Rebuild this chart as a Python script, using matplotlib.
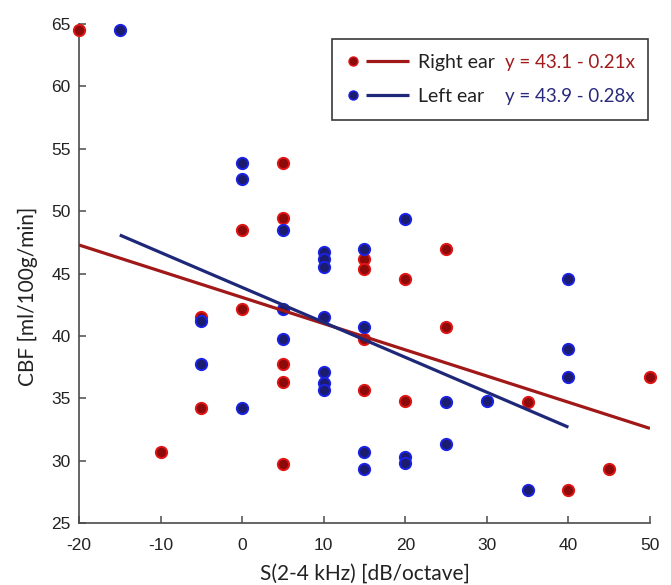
import matplotlib
matplotlib.use("Agg")
import matplotlib.pyplot as plt
import numpy as np
from matplotlib.lines import Line2D
from matplotlib.legend_handler import HandlerBase

plt.rcParams["axes.unicode_minus"] = False
plt.rcParams["font.family"] = ["Liberation Sans", "DejaVu Sans"]

# ---------------- data ----------------
right_x = [-20, -10, -5, -5, 0, 0, 5, 5, 5, 5, 5, 15, 15, 15, 15,
           20, 20, 25, 25, 35, 40, 45, 50]
right_y = [64.5, 30.75, 41.55, 34.25, 48.5, 42.2, 53.85, 49.5, 37.75, 36.3, 29.75,
           46.2, 45.4, 39.8, 35.7, 44.55, 34.8, 47.0, 40.7, 34.7, 27.7, 29.35, 36.75]

left_x = [-15, -5, -5, 0, 0, 0, 5, 5, 5, 10, 10, 10, 10, 10, 10, 10,
          15, 15, 15, 15, 20, 20, 20, 25, 25, 30, 35, 40, 40, 40]
left_y = [64.5, 41.2, 37.75, 53.85, 52.6, 34.25, 48.5, 42.2, 39.8,
          46.75, 46.2, 45.5, 41.5, 37.15, 36.25, 35.7,
          47.0, 40.75, 30.7, 29.35, 49.4, 30.3, 29.8, 34.7, 31.35, 34.8, 27.7,
          44.55, 39.0, 36.75]

right_fit = (43.1, -0.21)   # intercept, slope
left_fit = (43.9, -0.28)

series_labels = ["Right ear", "Left ear"]
x_ticks = [-20, -10, 0, 10, 20, 30, 40, 50]
y_ticks = [25, 30, 35, 40, 45, 50, 55, 60, 65]

# ---------------- style ----------------
red_face, red_edge, red_line, red_text = "#8c0a0a", "#e01515", "#a01818", "#a01c1c"
blue_face, blue_edge, blue_line, blue_text = "#1c1c6e", "#1a22e6", "#1f2878", "#2a2a7c"

fig = plt.figure(figsize=(6.71, 5.85), dpi=100)
ax = fig.add_axes([0.1177, 0.1055, 0.851, 0.8533])

ax.scatter(right_x, right_y, s=66, facecolor=red_face, edgecolor=red_edge,
           linewidth=1.4, zorder=3, clip_on=False)
ax.scatter(left_x, left_y, s=66, facecolor=blue_face, edgecolor=blue_edge,
           linewidth=1.4, zorder=4, clip_on=False)

rx = np.array([min(right_x), max(right_x)])
lx = np.array([min(left_x), max(left_x)])
ax.plot(rx, right_fit[0] + right_fit[1] * rx, color=red_line, lw=2.3, zorder=5,
        solid_capstyle="butt")
ax.plot(lx, left_fit[0] + left_fit[1] * lx, color=blue_line, lw=2.3, zorder=5,
        solid_capstyle="butt")

ax.set_xlim(-20, 50)
ax.set_ylim(25, 65)
ax.set_xticks(x_ticks)
ax.set_yticks(y_ticks)
for s in ["top", "right"]:
    ax.spines[s].set_visible(False)
for s in ["left", "bottom"]:
    ax.spines[s].set_color("#4a4a4a")
    ax.spines[s].set_linewidth(1.2)
ax.tick_params(direction="in", length=5, width=1.1, color="#4a4a4a",
               labelsize=12.5, labelcolor="#222222")
ax.tick_params(axis="x", pad=10.5)
ax.tick_params(axis="y", pad=6)

ax.set_xlabel("S(2-4 kHz) [dB/octave]", fontfamily="Lato", fontsize=15, color="#222222")
ax.set_ylabel("CBF [ml/100g/min]", fontfamily="Lato", fontsize=15, color="#222222")
ax.xaxis.set_label_coords(0.5, -0.08)
ax.yaxis.set_label_coords(-0.071, 0.455)


# ---------------- legend ----------------
class MarkerLineHandler(HandlerBase):
    def create_artists(self, legend, orig_handle, xdescent, ydescent,
                       width, height, fontsize, trans):
        face, edge, lcol = orig_handle
        y = height / 2 - ydescent
        x0 = -xdescent
        m = Line2D([x0 + 0.10 * width], [y], marker="o", markersize=6.5,
                   markerfacecolor=face, markeredgecolor=edge, markeredgewidth=1.0,
                   linestyle="none", transform=trans)
        ln = Line2D([x0 + 0.31 * width, x0 + width], [y, y], color=lcol, lw=2.3,
                    transform=trans, solid_capstyle="butt")
        return [m, ln]


handles = [(red_face, red_edge, red_line), (blue_face, blue_edge, blue_line)]
leg = ax.legend(handles, series_labels, handler_map={tuple: MarkerLineHandler()},
                loc="upper left", bbox_to_anchor=(0.443, 0.808, 0.5535, 0.162),
                mode="expand", prop={"family": "Lato", "size": 14},
                handlelength=3.2, handletextpad=0.5, labelspacing=0.9,
                borderpad=0.75, borderaxespad=0, fancybox=False, framealpha=1,
                edgecolor="#3a3a3a")
leg.get_frame().set_linewidth(1.2)
for t in leg.get_texts():
    t.set_color("#222222")

eqs = [
    f"y = {right_fit[0]:.1f} - {abs(right_fit[1]):.2f}x",
    f"y = {left_fit[0]:.1f} - {abs(left_fit[1]):.2f}x",
]
for txt, eq, col in zip(leg.get_texts(), eqs, [red_text, blue_text]):
    ax.annotate(eq, xy=(0.746, 0), xycoords=("axes fraction", txt),
                va="bottom", ha="left", fontfamily="Lato", fontsize=13.5,
                color=col, zorder=10)

fig.savefig("out.png", dpi=100, facecolor="white")
